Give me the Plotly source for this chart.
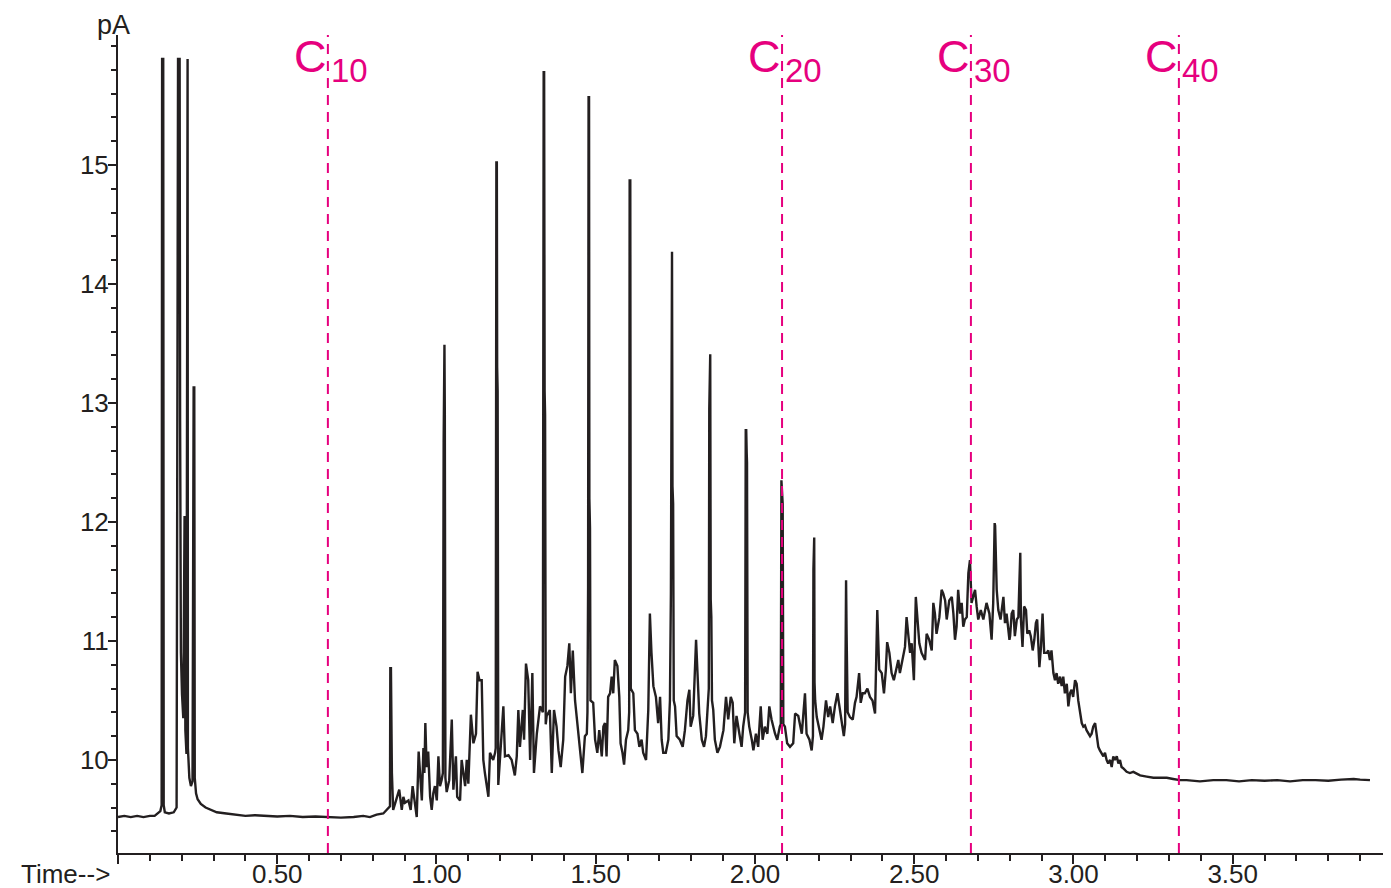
import plotly.graph_objects as go

# ---- data ----
time_min = [
    0.000, 0.020, 0.040, 0.060, 0.080, 0.100, 0.115, 0.125, 0.133, 0.137,
    0.1385, 0.1420, 0.1435, 0.147, 0.160, 0.175, 0.184, 0.1885, 0.1935, 0.195,
    0.1975, 0.201, 0.205, 0.209, 0.2115, 0.215, 0.2165, 0.2185, 0.2195, 0.224,
    0.229, 0.234, 0.2375, 0.2395, 0.241, 0.245, 0.250, 0.260, 0.275, 0.290,
    0.310, 0.340, 0.370, 0.400, 0.430, 0.460, 0.500, 0.540, 0.580, 0.620,
    0.660, 0.700, 0.740, 0.770, 0.791, 0.812, 0.833, 0.849, 0.854, 0.855,
    0.857, 0.860, 0.864, 0.873, 0.883, 0.891, 0.896, 0.901, 0.912, 0.919,
    0.925, 0.931, 0.938, 0.944, 0.948, 0.954, 0.959, 0.962, 0.965, 0.969,
    0.974, 0.980, 0.985, 0.990, 0.995, 1.001, 1.006, 1.011, 1.016, 1.020,
    1.0225, 1.0235, 1.0250, 1.0262, 1.028, 1.032, 1.040, 1.048, 1.053, 1.061,
    1.065, 1.074, 1.079, 1.090, 1.095, 1.100, 1.108, 1.116, 1.124, 1.129,
    1.135, 1.142, 1.147, 1.152, 1.163, 1.168, 1.178, 1.184, 1.186, 1.188,
    1.1895, 1.1905, 1.192, 1.194, 1.201, 1.210, 1.215, 1.226, 1.236, 1.246,
    1.252, 1.257, 1.262, 1.271, 1.275, 1.281, 1.288, 1.294, 1.301, 1.306,
    1.315, 1.325, 1.331, 1.334, 1.3365, 1.338, 1.3395, 1.341, 1.343, 1.346,
    1.356, 1.362, 1.369, 1.377, 1.383, 1.390, 1.398, 1.404, 1.411, 1.417,
    1.422, 1.428, 1.435, 1.445, 1.452, 1.458, 1.466, 1.472, 1.474, 1.476,
    1.4775, 1.479, 1.480, 1.482, 1.4835, 1.492, 1.498, 1.505, 1.511, 1.519,
    1.524, 1.529, 1.534, 1.539, 1.545, 1.550, 1.555, 1.560, 1.568, 1.574,
    1.578, 1.584, 1.589, 1.595, 1.602, 1.605, 1.6065, 1.6085, 1.610, 1.618,
    1.623, 1.631, 1.637, 1.644, 1.649, 1.658, 1.665, 1.670, 1.675, 1.681,
    1.689, 1.696, 1.702, 1.707, 1.712, 1.720, 1.728, 1.733, 1.736, 1.738,
    1.7395, 1.741, 1.743, 1.745, 1.749, 1.754, 1.764, 1.773, 1.780, 1.788,
    1.794, 1.798, 1.806, 1.815, 1.819, 1.825, 1.833, 1.840, 1.846, 1.853,
    1.855, 1.8565, 1.858, 1.8595, 1.861, 1.863, 1.865, 1.869, 1.874, 1.882,
    1.890, 1.901, 1.909, 1.916, 1.924, 1.930, 1.935, 1.942, 1.951, 1.958,
    1.963, 1.969, 1.971, 1.9725, 1.974, 1.975, 1.977, 1.982, 1.990, 1.995,
    2.003, 2.010, 2.018, 2.024, 2.031, 2.039, 2.045, 2.052, 2.063, 2.070,
    2.078, 2.081, 2.083, 2.0845, 2.0855, 2.087, 2.089, 2.094, 2.101, 2.110,
    2.120, 2.126, 2.136, 2.147, 2.152, 2.157, 2.162, 2.171, 2.178, 2.182,
    2.1835, 2.1845, 2.186, 2.187, 2.189, 2.194, 2.202, 2.209, 2.215, 2.223,
    2.230, 2.236, 2.244, 2.251, 2.259, 2.267, 2.272, 2.279, 2.283, 2.2845,
    2.286, 2.2875, 2.289, 2.291, 2.298, 2.307, 2.314, 2.319, 2.327, 2.332,
    2.338, 2.345, 2.353, 2.361, 2.369, 2.377, 2.384, 2.390, 2.398, 2.405,
    2.411, 2.415, 2.422, 2.429, 2.436, 2.443, 2.450, 2.455, 2.464, 2.471,
    2.476, 2.481, 2.487, 2.492, 2.499, 2.505, 2.510, 2.516, 2.523, 2.529,
    2.534, 2.539, 2.547, 2.555, 2.560, 2.565, 2.570, 2.579, 2.586, 2.591,
    2.597, 2.602, 2.610, 2.618, 2.623, 2.628, 2.633, 2.638, 2.644, 2.649,
    2.654, 2.659, 2.665, 2.670, 2.675, 2.680, 2.686, 2.691, 2.696, 2.701,
    2.709, 2.717, 2.727, 2.736, 2.743, 2.748, 2.7525, 2.754, 2.759, 2.764,
    2.771, 2.780, 2.785, 2.790, 2.799, 2.801, 2.806, 2.811, 2.816, 2.822,
    2.827, 2.831, 2.833, 2.835, 2.840, 2.845, 2.851, 2.855, 2.861, 2.866,
    2.872, 2.877, 2.882, 2.886, 2.893, 2.898, 2.903, 2.908, 2.916, 2.921,
    2.926, 2.931, 2.937, 2.942, 2.947, 2.952, 2.958, 2.963, 2.968, 2.973,
    2.979, 2.984, 2.989, 2.994, 2.999, 3.005, 3.010, 3.015, 3.020, 3.026,
    3.031, 3.036, 3.041, 3.047, 3.052, 3.057, 3.062, 3.068, 3.073, 3.078,
    3.083, 3.088, 3.094, 3.099, 3.104, 3.109, 3.115, 3.120, 3.125, 3.130,
    3.136, 3.141, 3.146, 3.151, 3.156, 3.167, 3.177, 3.188, 3.209, 3.230,
    3.251, 3.272, 3.293, 3.313, 3.334, 3.355, 3.397, 3.439, 3.480, 3.520,
    3.560, 3.600, 3.640, 3.680, 3.720, 3.760, 3.800, 3.840, 3.880, 3.900,
    3.931,
]

signal_pA = [
    9.52, 9.53, 9.52, 9.53, 9.52, 9.53, 9.53, 9.55, 9.57, 9.62,
    15.89, 15.89, 9.62, 9.56, 9.55, 9.56, 9.60, 15.89, 15.89, 12.85,
    10.90, 10.55, 10.35, 12.05, 10.25, 10.05, 15.89, 15.89, 10.10, 9.85,
    9.78, 9.82, 13.13, 13.13, 9.85, 9.72, 9.67, 9.63, 9.60, 9.58,
    9.56, 9.55, 9.54, 9.53, 9.535, 9.53, 9.525, 9.53, 9.52, 9.525,
    9.52, 9.515, 9.52, 9.53, 9.52, 9.54, 9.55, 9.60, 9.61, 10.77,
    10.77, 9.89, 9.58, 9.66, 9.75, 9.58, 9.69, 9.64, 9.66, 9.58,
    9.78, 9.66, 9.52, 10.07, 9.89, 9.66, 10.10, 9.89, 10.31, 9.94,
    10.07, 9.69, 9.58, 9.72, 9.78, 9.66, 10.03, 9.78, 9.83, 9.89,
    12.67, 13.49, 13.49, 12.90, 9.85, 9.73, 9.83, 10.34, 9.75, 10.03,
    9.69, 9.66, 10.00, 9.78, 10.00, 9.80, 10.38, 10.14, 10.22, 10.74,
    10.67, 10.67, 10.00, 9.89, 9.69, 10.06, 10.00, 10.06, 10.10, 15.02,
    15.02, 13.30, 13.10, 9.79, 10.06, 10.45, 10.03, 10.04, 10.00, 9.87,
    10.03, 10.42, 10.11, 10.42, 10.17, 10.81, 10.67, 10.00, 10.73, 9.89,
    10.22, 10.45, 10.42, 10.40, 15.78, 15.78, 13.10, 12.90, 10.30, 10.37,
    10.42, 9.89, 10.42, 10.28, 10.08, 9.94, 10.17, 10.70, 10.79, 10.98,
    10.56, 10.92, 10.50, 10.22, 10.00, 9.89, 10.20, 10.22, 10.40, 11.45,
    15.57, 15.57, 12.20, 11.95, 10.50, 10.48, 10.17, 10.06, 10.25, 10.03,
    10.28, 10.31, 10.03, 10.53, 10.56, 10.70, 10.56, 10.84, 10.79, 10.53,
    10.14, 10.06, 9.96, 10.17, 10.25, 10.40, 14.87, 14.87, 10.60, 10.56,
    10.25, 10.22, 10.11, 10.17, 10.06, 10.00, 10.42, 11.23, 10.90, 10.62,
    10.53, 10.31, 10.53, 10.17, 10.06, 10.06, 10.17, 10.50, 11.40, 14.27,
    14.27, 12.30, 12.15, 10.50, 10.45, 10.20, 10.17, 10.11, 10.25, 10.50,
    10.59, 10.28, 10.37, 11.01, 10.79, 10.39, 10.17, 10.11, 10.20, 10.50,
    10.60, 12.95, 13.41, 13.41, 11.35, 11.20, 10.50, 10.42, 10.17, 10.06,
    10.11, 10.25, 10.53, 10.34, 10.53, 10.48, 10.14, 10.37, 10.22, 10.11,
    10.28, 10.40, 12.77, 12.77, 12.58, 12.50, 10.40, 10.28, 10.17, 10.08,
    10.22, 10.11, 10.45, 10.17, 10.28, 10.22, 10.45, 10.34, 10.22, 10.17,
    10.28, 10.30, 12.35, 12.30, 12.20, 12.15, 10.30, 10.28, 10.14, 10.11,
    10.14, 10.39, 10.37, 10.22, 10.39, 10.56, 10.22, 10.17, 10.08, 10.20,
    11.60, 11.87, 11.87, 10.65, 10.50, 10.36, 10.25, 10.17, 10.28, 10.50,
    10.36, 10.45, 10.31, 10.45, 10.56, 10.42, 10.31, 10.20, 10.30, 11.51,
    11.51, 11.10, 10.90, 10.40, 10.36, 10.34, 10.48, 10.53, 10.73, 10.48,
    10.56, 10.56, 10.60, 10.53, 10.50, 10.39, 11.26, 10.76, 10.73, 10.56,
    10.76, 10.99, 10.90, 10.73, 10.67, 10.76, 10.84, 10.73, 10.84, 10.95,
    11.20, 11.04, 10.90, 10.98, 10.67, 11.37, 11.20, 10.98, 10.90, 10.87,
    10.84, 11.06, 11.01, 10.92, 11.32, 11.23, 11.06, 11.20, 11.43, 11.40,
    11.34, 11.18, 11.34, 11.37, 11.23, 11.01, 11.12, 11.43, 11.23, 11.32,
    11.12, 11.18, 11.20, 11.57, 11.68, 11.32, 11.37, 11.43, 11.29, 11.18,
    11.26, 11.18, 11.32, 11.23, 11.01, 11.32, 11.99, 11.97, 11.43, 11.26,
    11.18, 11.37, 11.15, 11.23, 11.01, 11.04, 11.23, 11.26, 11.04, 11.18,
    11.20, 11.74, 11.74, 11.18, 10.95, 11.29, 11.26, 11.06, 11.09, 11.04,
    10.92, 11.01, 11.15, 11.18, 10.78, 10.95, 11.23, 10.90, 10.90, 10.92,
    10.84, 10.92, 10.73, 10.67, 10.73, 10.64, 10.70, 10.62, 10.70, 10.56,
    10.64, 10.45, 10.56, 10.59, 10.53, 10.67, 10.64, 10.50, 10.39, 10.31,
    10.28, 10.29, 10.25, 10.22, 10.20, 10.22, 10.28, 10.31, 10.20, 10.11,
    10.08, 10.06, 10.03, 10.06, 10.00, 9.97, 10.00, 9.94, 10.03, 10.00,
    10.03, 9.97, 10.00, 9.94, 9.93, 9.90, 9.89, 9.90, 9.87, 9.86,
    9.85, 9.85, 9.85, 9.84, 9.83, 9.83, 9.82, 9.83, 9.83, 9.82,
    9.83, 9.825, 9.83, 9.82, 9.83, 9.83, 9.825, 9.835, 9.84, 9.835,
    9.83,
]

y_tick_vals = [10, 11, 12, 13, 14, 15]
y_tick_text = ["10", "11", "12", "13", "14", "15"]
x_tick_vals = [0.0, 0.5, 1.0, 1.5, 2.0, 2.5, 3.0, 3.5]
x_tick_text = ["", "0.50", "1.00", "1.50", "2.00", "2.50", "3.00", "3.50"]

carbon_numbers = ["10", "20", "30", "40"]
carbon_times = [0.659, 2.085, 2.678, 3.331]

INK = "#231f20"
PINK = "#e6007e"
FONT = "Liberation Sans, Arial, Helvetica, sans-serif"

fig = go.Figure()
fig.add_trace(go.Scatter(
    x=time_min, y=signal_pA, mode="lines",
    line=dict(color=INK, width=2.4), hoverinfo="skip", showlegend=False,
))

shapes = []
annotations = []
for num, t in zip(carbon_numbers, carbon_times):
    shapes.append(dict(
        type="line", xref="x", yref="paper", x0=t, x1=t, y0=0, y1=1,
        line=dict(color=PINK, width=2, dash="10px,7px"), layer="above",
    ))
    annotations.append(dict(
        x=t, y=15.91, xref="x", yref="y", text="C", showarrow=False,
        xanchor="right", yanchor="middle", xshift=1,
        font=dict(family=FONT, size=45, color=PINK),
    ))
    annotations.append(dict(
        x=t, y=15.79, xref="x", yref="y", text=num, showarrow=False,
        xanchor="left", yanchor="middle", xshift=1,
        font=dict(family=FONT, size=33, color=PINK),
    ))

annotations.append(dict(
    x=0, y=1, xref="paper", yref="paper", text="pA", showarrow=False,
    xanchor="center", yanchor="middle", xshift=-5, yshift=10,
    font=dict(family=FONT, size=27, color=INK),
))
annotations.append(dict(
    x=0, y=0, xref="paper", yref="paper", text="Time-->", showarrow=False,
    xanchor="right", yanchor="middle", xshift=-6, yshift=-21,
    font=dict(family=FONT, size=26, color=INK),
))

fig.update_layout(
    width=1383, height=880,
    margin=dict(l=110, r=0, t=27, b=35, autoexpand=False),
    plot_bgcolor="white", paper_bgcolor="white",
    shapes=shapes, annotations=annotations,
    font=dict(family=FONT, color=INK),
    xaxis=dict(
        range=[0, 3.997], showline=True, linecolor=INK, linewidth=2,
        showgrid=False, zeroline=False, automargin=False,
        tickmode="array", tickvals=x_tick_vals, ticktext=x_tick_text,
        ticks="outside", ticklen=9, tickwidth=1.5, tickcolor=INK,
        ticklabelstandoff=-12,
        tickfont=dict(family=FONT, size=26, color=INK),
        minor=dict(dtick=0.1, tick0=0, ticks="outside", ticklen=6,
                   tickwidth=1.5, tickcolor=INK, showgrid=False),
    ),
    yaxis=dict(
        range=[9.218, 16.092], showline=True, linecolor=INK, linewidth=2,
        showgrid=False, zeroline=False, automargin=False,
        tickmode="array", tickvals=y_tick_vals, ticktext=y_tick_text,
        ticks="outside", ticklen=8, tickwidth=1.5, tickcolor=INK,
        ticklabelstandoff=-6,
        tickfont=dict(family=FONT, size=26, color=INK),
        minor=dict(dtick=0.2, tick0=0, ticks="outside", ticklen=5,
                   tickwidth=1.5, tickcolor=INK, showgrid=False),
    ),
)

fig.write_html("out.html")
